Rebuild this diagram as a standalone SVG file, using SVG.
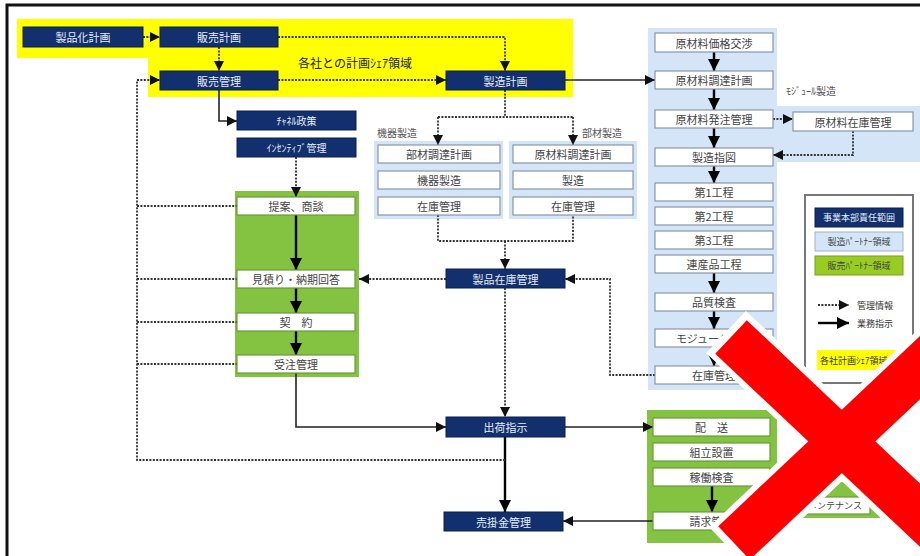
<svg xmlns="http://www.w3.org/2000/svg" width="920" height="556" viewBox="0 0 920 556">
<defs>
<marker id="ah" markerUnits="userSpaceOnUse" markerWidth="10" markerHeight="10" refX="10" refY="5" orient="auto"><path d="M0,0 L10,5 L0,10 z" fill="#111"/></marker>
<marker id="ahb" markerUnits="userSpaceOnUse" markerWidth="12" markerHeight="12" refX="12" refY="6" orient="auto"><path d="M0,0 L12,6 L0,12 z" fill="#000"/></marker>
</defs>
<style>
text{font-family:"Noto Sans CJK JP","Noto Sans",sans-serif;}
.nv{fill:#12306e;stroke:#0a1f4f;stroke-width:1}
.nt{fill:#e8edf7;font-size:11px;text-anchor:middle;dominant-baseline:central}
.bx{fill:#fff;stroke:#8896ab;stroke-width:1.2}
.gbx{fill:#fff;stroke:#6a9a3a;stroke-width:1.2}
.bt{fill:#444;font-size:11px;text-anchor:middle;dominant-baseline:central}
.lb{fill:#555;font-size:10px}
.blue{fill:#d3e5f7}
.green{fill:#84c341}
.dot{fill:none;stroke:#333;stroke-width:1.8;stroke-dasharray:2 1.4}
.sol{fill:none;stroke:#222;stroke-width:1.6}
.thk{fill:none;stroke:#000;stroke-width:2.4}
.lt{fill:#333;font-size:9px;dominant-baseline:central}
</style>
<rect x="0" y="0" width="920" height="556" fill="#fff"/>
<rect x="7" y="5" width="925" height="560" fill="none" stroke="#111" stroke-width="3"/>

<!-- regions -->
<polygon points="17,19 573,19 573,97 148,97 148,58 17,58" fill="#ffff00"/>
<text x="298" y="62" style="fill:#222;font-size:12px" dominant-baseline="central">各社との計画ｼｪｱ領域</text>
<rect x="235" y="191" width="124" height="186" class="green"/>
<rect x="374" y="141" width="129" height="78" class="blue"/>
<rect x="509" y="141" width="128" height="78" class="blue"/>
<rect x="648" y="28" width="129" height="362" class="blue"/>
<rect x="777" y="106" width="143" height="56" class="blue"/>
<rect x="647" y="410" width="130" height="133" class="green"/>
<rect x="777" y="482" width="103" height="36" class="green"/>
<text x="377" y="132" class="lb" dominant-baseline="central">機器製造</text>
<text x="582" y="132" class="lb" dominant-baseline="central">部材製造</text>
<text x="786" y="90" class="lb" dominant-baseline="central">ﾓｼﾞｭｰﾙ製造</text>

<!-- connectors -->
<g id="connectors">
<path class="dot" d="M143,37 H160" marker-end="url(#ah)"/>
<path class="dot" d="M219,47 V71" marker-end="url(#ah)"/>
<path class="dot" d="M278,37 H505 V71" marker-end="url(#ah)"/>
<path class="dot" d="M278,80 H446" marker-end="url(#ah)"/>
<path class="sol" d="M565,80 H655" marker-end="url(#ah)"/>
<path class="sol" d="M219,90 V121 H237" marker-end="url(#ah)"/>
<path class="dot" d="M296,157 V197" marker-end="url(#ah)"/>
<path class="thk" d="M296,215 V270" marker-end="url(#ahb)"/>
<path class="thk" d="M296,288 V313" marker-end="url(#ahb)"/>
<path class="thk" d="M296,331 V355" marker-end="url(#ahb)"/>
<path class="sol" d="M296,373 V427 H446" marker-end="url(#ah)"/>
<path class="dot" d="M505,90 V117 M438,117 H573"/>
<path class="dot" d="M438,117 V145" marker-end="url(#ah)"/>
<path class="dot" d="M573,117 V145" marker-end="url(#ah)"/>
<path class="dot" d="M438,215 V241 H573 V215"/>
<path class="dot" d="M505,241 V269" marker-end="url(#ah)"/>
<path class="dot" d="M446,279 H359" marker-end="url(#ah)"/>
<path class="dot" d="M655,375 H610 V279 H565" marker-end="url(#ah)"/>
<path class="dot" d="M505,288 V417" marker-end="url(#ah)"/>
<path class="thk" d="M505,437 V512" marker-end="url(#ahb)"/>
<path class="sol" d="M565,427 H653" marker-end="url(#ah)"/>
<path class="sol" d="M653,521 H563" marker-end="url(#ah)"/>
<path class="dot" d="M505,460 H137 V80 H160" marker-end="url(#ah)"/>
<path class="dot" d="M137,206 H237 M137,279 H237 M137,322 H237 M137,364 H237"/>
<path class="thk" d="M714,52 V71" marker-end="url(#ahb)"/>
<path class="thk" d="M714,89 V110" marker-end="url(#ahb)"/>
<path class="thk" d="M714,128 V148" marker-end="url(#ahb)"/>
<path class="thk" d="M714,166 V183" marker-end="url(#ahb)"/>
<path class="thk" d="M714,273 V293" marker-end="url(#ahb)"/>
<path class="thk" d="M714,311 V329" marker-end="url(#ahb)"/>
<path class="thk" d="M714,347 V366" marker-end="url(#ahb)"/>
<path class="dot" d="M773,119 H793" marker-end="url(#ah)"/>
<path class="dot" d="M853,131 V155 H773" marker-end="url(#ah)"/>
<path class="thk" d="M712,486 V512" marker-end="url(#ahb)"/>
</g>

<!-- navy nodes -->
<g id="n-seihinka"><rect x="23" y="27" width="120" height="20" class="nv"/><text x="83" y="37" class="nt">製品化計画</text></g>
<g id="n-hanbaikeikaku"><rect x="160" y="27" width="118" height="20" class="nv"/><text x="219" y="37" class="nt">販売計画</text></g>
<g id="n-hanbaikanri"><rect x="160" y="71" width="118" height="19" class="nv"/><text x="219" y="80.5" class="nt">販売管理</text></g>
<g id="n-channel"><rect x="237" y="111" width="119" height="19" class="nv"/><text x="296.5" y="120.5" class="nt" style="font-size:10px">ﾁｬﾈﾙ政策</text></g>
<g id="n-incentive"><rect x="237" y="138" width="119" height="19" class="nv"/><text x="296.5" y="147.5" class="nt" style="font-size:10px">ｲﾝｾﾝﾃｨﾌﾞ管理</text></g>
<g id="n-seizokeikaku"><rect x="446" y="71" width="119" height="19" class="nv"/><text x="505.5" y="80.5" class="nt">製造計画</text></g>
<g id="n-seihinzaiko"><rect x="446" y="269" width="119" height="19" class="nv"/><text x="505.5" y="278.5" class="nt">製品在庫管理</text></g>
<g id="n-shukka"><rect x="446" y="417" width="119" height="20" class="nv"/><text x="505.5" y="427" class="nt">出荷指示</text></g>
<g id="n-urikake"><rect x="444" y="512" width="119" height="19" class="nv"/><text x="503.5" y="521.5" class="nt">売掛金管理</text></g>

<!-- sales partner boxes -->
<g id="g-teian"><rect x="237" y="197" width="118" height="18" class="gbx"/><text x="296" y="206" class="bt">提案、商談</text></g>
<g id="g-mitsumori"><rect x="237" y="270" width="118" height="18" class="gbx"/><text x="296" y="279" class="bt">見積り・納期回答</text></g>
<g id="g-keiyaku"><rect x="237" y="313" width="118" height="18" class="gbx"/><text x="296" y="322" class="bt">契　約</text></g>
<g id="g-juchu"><rect x="237" y="355" width="118" height="18" class="gbx"/><text x="296" y="364" class="bt">受注管理</text></g>

<!-- equipment manufacturing -->
<g id="k-buzai"><rect x="378" y="145" width="122" height="18" class="bx"/><text x="439" y="154" class="bt">部材調達計画</text></g>
<g id="k-kiki"><rect x="378" y="171" width="122" height="18" class="bx"/><text x="439" y="180" class="bt">機器製造</text></g>
<g id="k-zaiko"><rect x="378" y="197" width="122" height="18" class="bx"/><text x="439" y="206" class="bt">在庫管理</text></g>
<g id="b-genzai"><rect x="513" y="145" width="120" height="18" class="bx"/><text x="573" y="154" class="bt">原材料調達計画</text></g>
<g id="b-seizo"><rect x="513" y="171" width="120" height="18" class="bx"/><text x="573" y="180" class="bt">製造</text></g>
<g id="b-zaiko"><rect x="513" y="197" width="120" height="18" class="bx"/><text x="573" y="206" class="bt">在庫管理</text></g>

<!-- module manufacturing column -->
<g id="m-kakaku"><rect x="655" y="33" width="118" height="19" class="bx"/><text x="714" y="42.5" class="bt">原材料価格交渉</text></g>
<g id="m-chotatsu"><rect x="655" y="71" width="118" height="18" class="bx"/><text x="714" y="80" class="bt">原材料調達計画</text></g>
<g id="m-hatchu"><rect x="655" y="110" width="118" height="18" class="bx"/><text x="714" y="119" class="bt">原材料発注管理</text></g>
<g id="m-zaikogen"><rect x="793" y="112" width="120" height="19" class="bx"/><text x="853" y="121.5" class="bt">原材料在庫管理</text></g>
<g id="m-sashizu"><rect x="655" y="148" width="118" height="18" class="bx"/><text x="714" y="157" class="bt">製造指図</text></g>
<g id="m-k1"><rect x="655" y="183" width="118" height="18" class="bx"/><text x="714" y="192" class="bt">第1工程</text></g>
<g id="m-k2"><rect x="655" y="207" width="118" height="18" class="bx"/><text x="714" y="216" class="bt">第2工程</text></g>
<g id="m-k3"><rect x="655" y="231" width="118" height="18" class="bx"/><text x="714" y="240" class="bt">第3工程</text></g>
<g id="m-k4"><rect x="655" y="255" width="118" height="18" class="bx"/><text x="714" y="264" class="bt">連産品工程</text></g>
<g id="m-hinshitsu"><rect x="655" y="293" width="118" height="18" class="bx"/><text x="714" y="302" class="bt">品質検査</text></g>
<g id="m-module"><rect x="655" y="329" width="118" height="18" class="bx"/><text x="714" y="338" class="bt">モジュール組立</text></g>
<g id="m-zaiko"><rect x="655" y="366" width="118" height="18" class="bx"/><text x="714" y="375" class="bt">在庫管理</text></g>

<!-- delivery column -->
<g id="d-haiso"><rect x="653" y="418" width="117" height="18" class="gbx"/><text x="711.5" y="427" class="bt">配　送</text></g>
<g id="d-kumitate"><rect x="653" y="443" width="117" height="18" class="gbx"/><text x="711.5" y="452" class="bt">組立設置</text></g>
<g id="d-kado"><rect x="653" y="468" width="117" height="18" class="gbx"/><text x="711.5" y="477" class="bt">稼働検査</text></g>
<g id="d-seikyu"><rect x="653" y="512" width="117" height="18" class="gbx"/><text x="711.5" y="521" class="bt">請求管理</text></g>
<g id="d-maint"><rect x="800" y="497" width="70" height="17" class="gbx"/><text x="835" y="505.5" class="bt" style="font-size:9px">メンテナンス</text></g>

<!-- legend -->
<g id="legend">
<rect x="805" y="195" width="108" height="188" fill="#fff" stroke="#777" stroke-width="2"/>
<rect x="815" y="208" width="88" height="19" class="nv"/><text x="859" y="217.5" class="nt" style="font-size:9px">事業本部責任範囲</text>
<rect x="815" y="232" width="88" height="19" fill="#d3e5f7" stroke="#9fb3c8"/><text x="859" y="241.5" class="bt" style="font-size:9px">製造ﾊﾟｰﾄﾅｰ領域</text>
<rect x="815" y="256" width="88" height="19" fill="#99cc22" stroke="#77a020"/><text x="859" y="265.5" class="bt" style="font-size:9px">販売ﾊﾟｰﾄﾅｰ領域</text>
<path class="dot" d="M818,305 H849" marker-end="url(#ah)"/><text x="857" y="305" class="lt">管理情報</text>
<path class="thk" d="M818,323 H849" marker-end="url(#ahb)"/><text x="857" y="323" class="lt">業務指示</text>
<rect x="817" y="350" width="80" height="20" fill="#ffff00"/><text x="820" y="360" class="lt">各社計画ｼｪｱ領域</text>
</g>

<!-- red X overlay -->
<g id="redx" fill="none" stroke-linecap="butt">
<line x1="726" y1="332" x2="1010" y2="600" stroke="#fff" stroke-width="58"/>
<line x1="729" y1="548" x2="960" y2="330" stroke="#fff" stroke-width="58"/>
<line x1="731" y1="337" x2="1010" y2="600" stroke="#ff0000" stroke-width="46"/>
<line x1="734" y1="543" x2="960" y2="330" stroke="#ff0000" stroke-width="46"/>
</g>
</svg>
